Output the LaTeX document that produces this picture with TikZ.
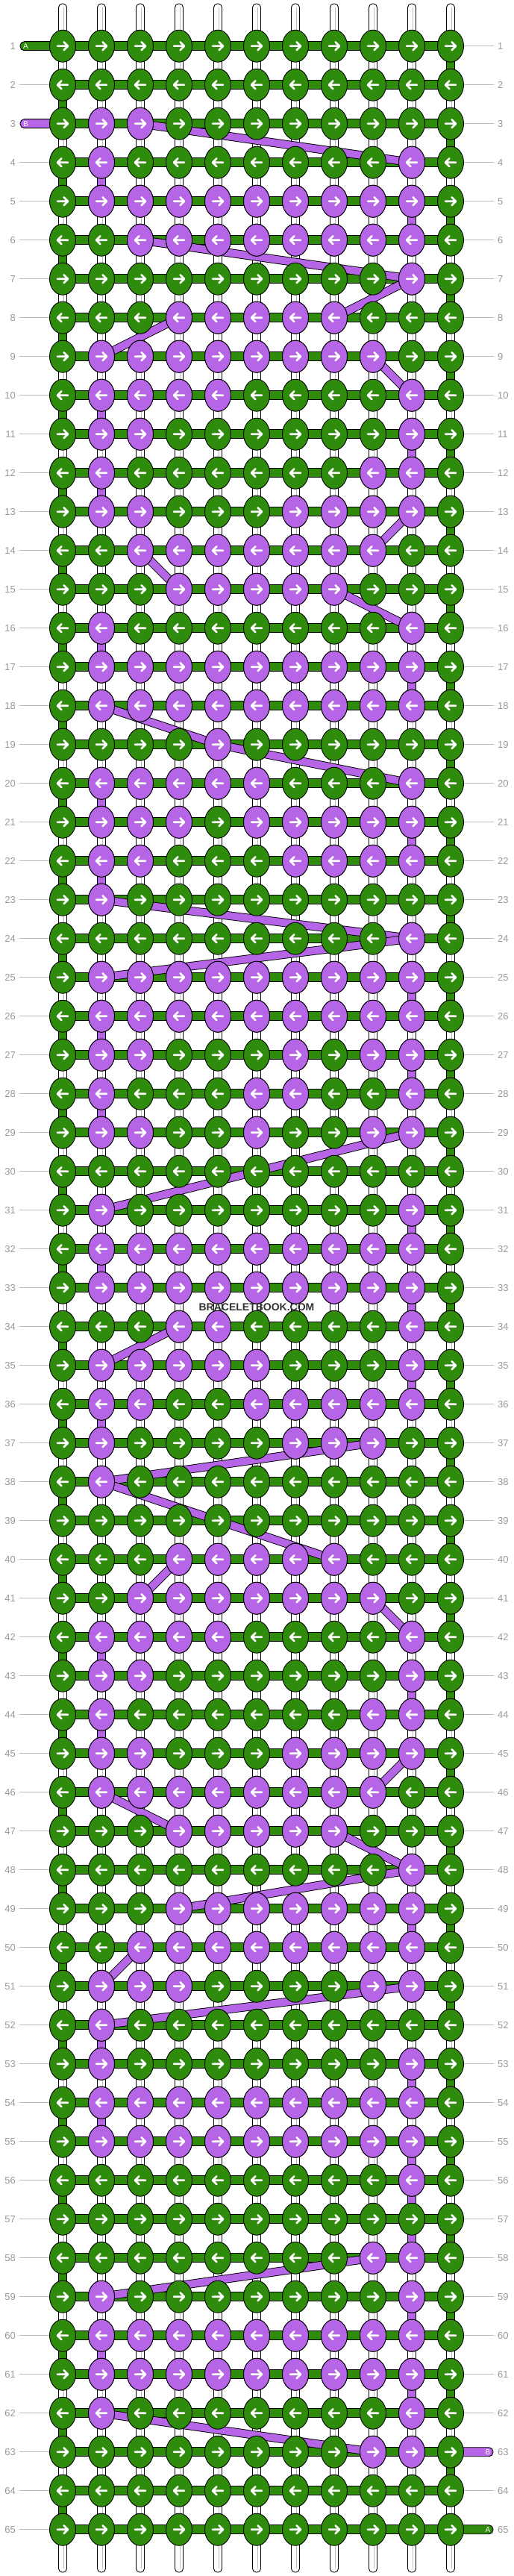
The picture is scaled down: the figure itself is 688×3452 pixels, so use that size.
\documentclass[tikz,border=0pt]{standalone}
\usepackage{fontspec}
\setmainfont{Liberation Sans}
\usetikzlibrary{shapes.geometric}
\definecolor{kg}{HTML}{2E8B0B}
\definecolor{kp}{HTML}{B565E5}
\definecolor{labgray}{HTML}{999999}
\definecolor{linegray}{HTML}{BBBBBB}
\begin{document}
\begin{tikzpicture}[x=1pt,y=-1pt,
  knot/.style={ellipse,draw=black,line width=0.9pt,minimum width=35pt,minimum height=43pt,inner sep=0pt},
  strand/.style={draw=black,line width=0.9pt,fill=white},
  hbar/.style={draw=black,line width=0.9pt,fill=kg},
  pbar/.style={draw=black,line width=0.9pt,fill=kp},
  vseg/.style={draw=black,line width=0.9pt},
  arr/.style={white,line width=2.6pt,line cap=round,line join=round},
  lab/.style={text=labgray,font=\fontsize{13}{13}\selectfont,inner sep=0pt},
  labline/.style={linegray,line width=1pt},
  stubtxt/.style={text=white,font=\fontsize{10}{10}\selectfont,inner sep=0pt},
  wmark/.style={text=black!80,font=\bfseries\fontsize{14}{14}\selectfont,inner sep=0pt}
]
\useasboundingbox (0,0) rectangle (688,3452);
\fill[white] (0,0) rectangle (688,3452);

% grid coordinates
\foreach \r in {1,...,65}{
  \foreach \c in {1,...,11}{
    \coordinate (p-\r-\c) at ({84+52*(\c-1)},{61.7+52*(\r-1)});
  }
}

% vertical white strings
\foreach \c in {1,...,11}{
  \coordinate (top-\c) at ({84+52*(\c-1)},5);
  \coordinate (bot-\c) at ({84+52*(\c-1)},3447);
  \draw[strand,rounded corners=5pt] ([xshift=-5.5pt]top-\c) rectangle ([xshift=5.5pt]bot-\c);
  \draw[linegray,line width=0.7pt] ([xshift=1.5pt,yshift=-5pt]top-\c) -- ([xshift=1.5pt,yshift=5pt]bot-\c);
}

% string ends
\coordinate (sA1) at (27,61.7);
\coordinate (sB1) at (27,165.7);
\coordinate (sB2) at (661,3285.7);
\coordinate (sA2) at (661,3389.7);
\draw[hbar,rounded corners=5.5pt] ([yshift=6pt]p-1-1) -- ([yshift=6pt]sA1) -- ([yshift=-6pt]sA1) -- ([yshift=-6pt]p-1-1);
\draw[pbar,rounded corners=5.5pt] ([yshift=6pt]p-3-1) -- ([yshift=6pt]sB1) -- ([yshift=-6pt]sB1) -- ([yshift=-6pt]p-3-1);
\draw[pbar,rounded corners=5.5pt] ([yshift=6pt]p-63-11) -- ([yshift=6pt]sB2) -- ([yshift=-6pt]sB2) -- ([yshift=-6pt]p-63-11);
\draw[hbar,rounded corners=5.5pt] ([yshift=6pt]p-65-11) -- ([yshift=6pt]sA2) -- ([yshift=-6pt]sA2) -- ([yshift=-6pt]p-65-11);

% horizontal bars
\foreach \r in {1,...,65}{
  \draw[hbar] ([yshift=6pt]p-\r-1) rectangle ([yshift=-6pt]p-\r-11);
}

% green turns at the edges
\foreach \r in {1,3,...,63}{
  \pgfmathtruncatemacro{\rn}{\r+1}
  \draw[vseg,fill=kg] ([xshift=-5.5pt]p-\r-11) rectangle ([xshift=5.5pt]p-\rn-11);
}
\foreach \r in {2,4,...,64}{
  \pgfmathtruncatemacro{\rn}{\r+1}
  \draw[vseg,fill=kg] ([xshift=-5.5pt]p-\r-1) rectangle ([xshift=5.5pt]p-\rn-1);
}

% purple straight passes
\foreach \ra/\rb/\c in {4/5/2,5/6/10,10/11/2,11/12/10,12/13/2,16/17/2,17/18/10,20/21/2,21/22/10,22/23/2,25/26/10,26/27/2,27/28/10,28/29/2,31/32/10,32/33/2,33/34/10,35/36/10,36/37/2,42/43/2,43/44/10,44/45/2,49/50/10,52/53/2,53/54/10,54/55/2,55/56/10,56/58/10,59/60/10,60/61/2,61/62/10}{
  \draw[vseg,fill=kp] ([xshift=-5.5pt]p-\ra-\c) rectangle ([xshift=5.5pt]p-\rb-\c);
}

% purple diagonal passes
\foreach \ra/\ca/\rb/\cb in {3/3/4/10,6/3/7/10,7/10/8/8,8/4/9/2,9/9/10/10,13/10/14/9,14/3/15/4,15/8/16/10,18/2/19/5,19/5/20/10,23/2/24/10,24/10/25/2,29/10/31/2,34/4/35/2,37/9/38/2,38/2/40/8,40/4/41/3,41/9/42/10,45/10/46/9,46/2/47/4,47/8/48/10,48/10/49/4,50/3/51/2,51/10/52/2,58/9/59/2,62/2/63/9}{
  \draw[line width=11.5pt,black] (p-\ra-\ca) -- (p-\rb-\cb);
  \draw[line width=9.7pt,kp] (p-\ra-\ca) -- (p-\rb-\cb);
}

% knots
\foreach \r in {1,...,65}{
  \foreach \c in {1,...,11}{
    \node[knot,fill=kg] (k-\r-\c) at (p-\r-\c) {};
  }
}
\foreach \r/\cs in {3/{2,3},4/{2,10},5/{2,...,10},6/{3,...,10},7/{10},8/{4,...,8},9/{2,...,9},10/{2,3,4,5,10},11/{2,3,10},12/{2,9,10},13/{2,3,7,8,9,10},14/{3,...,9},15/{4,...,8},16/{2,10},17/{2,...,10},18/{2,...,10},19/{5},20/{2,3,4,5,6,10},21/{2,3,4,6,7,8,9,10},22/{2,3,7,8,9,10},23/{2},24/{10},25/{2,...,10},26/{2,...,10},27/{2,3,7,9,10},28/{2,6,7,10},29/{2,3,6,9,10},31/{2,10},32/{2,...,10},33/{2,...,10},34/{4,5,10},35/{2,3,4,5,6,10},36/{2,3,6,7,8,9,10},37/{2,7,8,9},38/{2},40/{4,...,8},41/{3,...,9},42/{2,3,4,5,10},43/{2,3,10},44/{2,9,10},45/{2,3,7,8,9,10},46/{2,...,9},47/{4,...,8},48/{10},49/{4,...,10},50/{3,...,10},51/{2,3,4,9,10},52/{2},53/{2,10},54/{2,...,10},55/{2,...,10},56/{10},58/{9,10},59/{2,10},60/{2,...,10},61/{2,...,10},62/{2,10},63/{9,10}}{
  \foreach \c in \cs {
    \node[knot,fill=kp] (q-\r-\c) at (p-\r-\c) {};
  }
}

% arrows
\foreach \r in {1,...,65}{
  \pgfmathsetmacro{\da}{ifthenelse(isodd(\r),7,-7)}
  \pgfmathsetmacro{\db}{ifthenelse(isodd(\r),-7,7)}
  \pgfmathsetmacro{\dc}{ifthenelse(isodd(\r),1.5,-1.5)}
  \foreach \c in {1,...,11}{
    \draw[arr] ([xshift=\db pt]p-\r-\c) -- ([xshift=\da pt]p-\r-\c)
      ([xshift=\dc pt,yshift=5.5pt]p-\r-\c) -- ([xshift=\da pt]p-\r-\c) -- ([xshift=\dc pt,yshift=-5.5pt]p-\r-\c);
  }
}

% string end letters
\node[stubtxt] (tA1) at (34.5,61.7) {A};
\node[stubtxt] (tB1) at (34.5,165.7) {B};
\node[stubtxt] (tB2) at (654,3285.7) {B};
\node[stubtxt] (tA2) at (654,3389.7) {A};

% row numbers
\foreach \r in {1,...,65}{
  \node[lab,anchor=east] (ll-\r) at (21,{61.7+52*(\r-1)}) {\r};
  \node[lab,anchor=west] (lr-\r) at (667,{61.7+52*(\r-1)}) {\r};
  \pgfmathtruncatemacro{\skipL}{(\r==1)||(\r==3)}
  \pgfmathtruncatemacro{\skipR}{(\r==63)||(\r==65)}
  \ifnum\skipL=0 \draw[labline] ([xshift=5pt]ll-\r.east) -- (k-\r-1.west);\fi
  \ifnum\skipR=0 \draw[labline] (k-\r-11.east) -- ([xshift=-5pt]lr-\r.west);\fi
}

\node[wmark] (wm) at (344,1751.7) {BRACELETBOOK.COM};
\end{tikzpicture}
\end{document}
